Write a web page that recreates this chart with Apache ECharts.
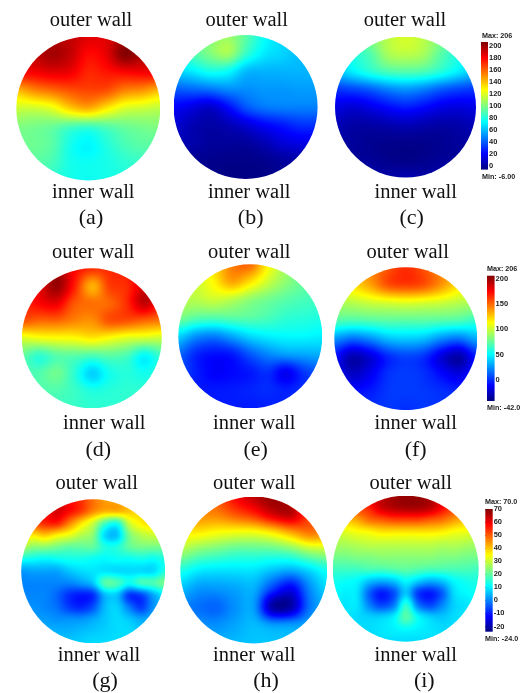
<!DOCTYPE html>
<html><head><meta charset="utf-8">
<style>html,body{margin:0;padding:0;background:#fff}#c{width:526px;height:693px}#c canvas{filter:blur(.45px)}</style>
<script src="https://cdn.jsdelivr.net/npm/echarts@6/dist/echarts.min.js"></script>
</head><body><div id="c"></div>
<script>
// Values, one row per sample line, top of each disc first.
const discA=[[192,192,195,192,186,186,197,202,202],[188,192,198,192,178,184,204,197,192],[178,180,184,182,172,175,178,180,180],[140,150,156,162,165,163,152,148,140],[115,115,120,135,142,130,118,115,112],[100,98,95,88,85,90,95,98,100],[96,96,92,78,72,80,88,92,92],[92,92,88,78,76,78,82,85,85],[85,85,82,78,76,78,80,82,82]];
const discB=[[90,90,100,105,92,75,65,60,60],[85,90,100,108,85,70,65,60,60],[65,70,78,75,60,58,58,58,58],[40,42,45,50,50,52,52,53,53],[20,15,10,22,38,45,47,47,47],[12,5,2,5,12,20,25,30,30],[5,3,0,0,0,5,12,15,15],[0,-2,-3,-4,-4,-3,0,2,2],[-2,-3,-4,-5,-5,-4,-2,0,0]];
const discC=[[90,90,100,112,118,112,100,90,90],[70,80,90,108,112,108,92,80,70],[60,70,80,88,90,88,80,70,60],[32,35,40,48,52,48,40,35,32],[15,12,16,22,26,22,16,14,16],[6,2,2,4,6,4,2,3,6],[2,0,-2,-3,-3,-3,-2,0,2],[2,0,-1,-3,-4,-3,-1,0,2],[5,5,3,2,4,2,3,5,5]];
const discD=[[175,175,195,175,165,165,170,180,180],[170,180,200,170,132,160,165,185,190],[165,175,180,155,148,150,165,190,170],[155,150,150,143,140,155,155,150,145],[105,110,112,113,118,112,105,103,100],[75,62,72,72,68,72,68,50,65],[70,70,78,62,40,55,60,55,62],[70,70,70,65,58,60,62,62,62],[68,68,66,64,62,62,62,62,62]];
const discE=[[100,100,120,145,150,115,90,75,75],[95,100,115,135,120,100,85,75,72],[95,95,100,95,85,78,72,68,66],[80,72,70,72,72,68,62,60,58],[42,25,20,30,42,48,50,50,48],[15,-2,-8,-5,10,22,28,30,32],[8,-4,-12,-10,-6,0,-14,2,10],[2,-5,-6,-5,-3,-1,-4,0,2],[0,-5,-6,-5,-5,-4,-4,0,0]];
const discF=[[130,130,140,155,165,155,140,130,130],[110,120,135,155,160,155,138,120,110],[92,95,100,103,105,103,100,95,92],[70,68,70,72,72,72,70,68,62],[25,15,22,35,38,35,22,16,30],[-8,-30,-20,-2,5,0,-20,-32,-5],[-10,-25,-15,0,3,0,-10,-18,-5],[-2,-8,-5,2,3,2,0,-2,0],[0,0,0,2,0,2,0,0,0]];
const discG=[[58,58,60,62,58,54,48,44,42,40,38,38,36],[56,56,58,62,58,53,46,42,42,40,38,38,36],[52,52,55,56,47,38,30,18,14,30,36,38,38],[40,37,40,36,33,28,24,8,6,22,28,30,30],[28,24,24,22,20,20,20,14,14,20,22,22,22],[13,12,11,12,13,13,12,11,12,12,13,12,14],[2,3,3,3,6,8,9,9,8,8,8,8,14],[0,0,0,0,0,2,6,19,18,12,17,18,22],[0,0,0,-3,-8,-10,-8,5,6,-7,-6,3,10],[1,1,0,-2,-7,-9,-5,5,7,-1,-7,1,4],[2,2,2,1,1,1,3,6,8,6,3,4,4],[4,4,4,4,4,5,6,7,8,8,6,5,5],[6,6,6,6,6,7,8,8,8,8,7,6,6]];
const discH=[[45,45,50,58,64,68,64,50,45],[42,45,46,50,54,61,64,52,45],[36,36,34,33,33,36,42,47,45],[26,22,20,18,18,18,20,25,27],[14,10,9,9,9,6,4,8,13],[6,2,2,3,4,-6,-13,0,8],[0,-2,-3,1,2,-20,-20,-2,4],[1,1,1,3,5,2,2,3,4],[4,4,4,5,6,6,5,4,4]];
const discI=[[50,50,55,60,64,67,68,68,66,60,55,50,50],[45,48,52,55,62,65,66,66,64,58,52,48,45],[38,40,43,48,50,52,52,52,50,48,44,40,38],[30,32,34,35,37,37,37,37,37,36,34,33,31],[27,27,28,29,29,29,29,29,29,28,28,27,26],[22,22,23,23,24,24,24,24,24,23,23,22,22],[17,17,17,18,18,19,20,19,18,18,18,18,17],[13,12,11,6,4,6,11,7,4,6,11,13,14],[11,10,9,-3,-10,-5,6,-7,-10,-4,8,11,12],[10,9,9,0,-6,-1,15,-1,-6,0,7,9,10],[9,9,8,7,7,10,19,11,7,6,8,9,9],[8,8,8,8,9,10,11,10,9,8,8,8,8],[8,8,8,8,8,8,8,8,8,8,8,8,8]];

const scaleRanges=[[-6,206],[-42,206],[-24,70]];
const barTicks=[[0,20,40,60,80,100,120,140,160,180,200],[0,50,100,150,200],[-20,-10,0,10,20,30,40,50,60,70]];
const maxLabels=['Max: 206','Max: 206','Max: 70.0'];
const minLabels=['Min: -6.00','Min: -42.0','Min: -24.0'];
const captions=['(a)','(b)','(c)','(d)','(e)','(f)','(g)','(h)','(i)'];
const outerLabel='outer wall', innerLabel='inner wall';
const jetColors=['#00007f','#0000ff','#0080ff','#00ffff','#80ff80','#ffff00','#ff8000','#ff0000','#7f0000'];

const discs=[discA,discB,discC,discD,discE,discF,discG,discH,discI];
const discBox=[[88.3,108.5,72],[245.6,107,72],[405.5,107,70.5],[91.8,338.3,70],[250.3,336.3,72],[405.8,338.7,71.5],[93.2,571.3,72],[253.8,570,73.5],[405.7,568.7,73]];
const outerPos=[[91,20.7],[246.7,20.7],[405,20.7],[93.3,252.3],[249.3,252.3],[407.7,252.3],[96.7,483.3],[254.3,483.3],[410.7,483.3]];
const innerPos=[[93.3,192.7],[249.3,192.7],[415.7,192.7],[104.3,423.3],[254.3,423.3],[415.7,423.3],[99,656],[254.3,656],[415.7,656]];
const capPos=[[91,218],[250.7,218],[411.7,218],[98.3,450],[255.7,450],[415.7,450],[105,681],[266,681],[424.3,681]];
const barBox=[[481,42,7,127.6],[487,275.7,7.6,125.3],[485.3,509,7.4,122.7]];
const maxPos=[[482,36],[487,269],[485,502]];
const minPos=[[482,177],[487,408],[485,639]];

function hex(c){return [1,3,5].map(i=>parseInt(c.substr(i,2),16));}
const jetRgb=jetColors.map(hex);
function jet(t){
  t=Math.max(0,Math.min(1,t))*(jetRgb.length-1);
  const i=Math.min(jetRgb.length-2,Math.floor(t)),f=t-i,a=jetRgb[i],b=jetRgb[i+1];
  return 'rgb('+a.map((v,k)=>Math.round(v+(b[k]-v)*f)).join(',')+')';
}
const cr=(a,b,c,d,t)=>b+0.5*t*(c-a+t*(2*a-5*b+4*c-d+t*(3*(b-c)+d-a)));
function sampler(rows){
  const n=rows.length,cl=i=>Math.max(0,Math.min(n-1,i));
  return (x,y)=>{
    const ix=Math.floor(x),iy=Math.floor(y),fx=x-ix,fy=y-iy,col=[];
    for(let j=-1;j<=2;j++){const r=rows[cl(iy+j)];col.push(cr(r[cl(ix-1)],r[cl(ix)],r[cl(ix+1)],r[cl(ix+2)],fx));}
    return cr(col[0],col[1],col[2],col[3],fy);
  };
}
const series=[],grids=[],xAxes=[],yAxes=[],graphics=[];
discs.forEach((rows,d)=>{
  const [cx,cy,r]=discBox[d],n=rows.length,range=scaleRanges[Math.floor(d/3)],val=sampler(rows),span=range[1]-range[0];
  grids.push({left:cx-r,top:cy-r,width:2*r,height:2*r});
  xAxes.push({type:'value',gridIndex:d,min:0,max:n-1,show:false});
  yAxes.push({type:'value',gridIndex:d,min:0,max:n-1,inverse:true,show:false});
  const data=[];
  for(let j=0;j<n-1;j++)for(let i=0;i<n-1;i++)data.push([i,j,rows[j][i]]);
  series.push({type:'custom',xAxisIndex:d,yAxisIndex:d,coordinateSystem:'cartesian2d',data,silent:true,clip:false,
    encode:{x:0,y:1},animation:false,
    renderItem(p,api){
      const i=api.value(0),j=api.value(1);
      const p0=api.coord([i,j]),p1=api.coord([i+1,j+1]);
      const X0=Math.round(p0[0]),X1=Math.round(p1[0]),Y0=Math.round(p0[1]),Y1=Math.round(p1[1]),kids=[];
      for(let Y=Y0;Y<Y1;Y++){
        const fy=j+(Y+.5-Y0)/(Y1-Y0),stops=[];
        for(let k=0;k<=6;k++){stops.push({offset:k/6,color:jet((val(i+k/6*.999,fy)-range[0])/span)});}
        kids.push({type:'rect',shape:{x:X0,y:Y,width:X1-X0,height:1},
          style:{fill:new echarts.graphic.LinearGradient(0,0,1,0,stops)}});
      }
      return {type:'group',children:kids,clipPath:{type:'circle',shape:{cx,cy,r}}};
    }});
  const txt=(t,pos,size)=>graphics.push({type:'text',x:pos[0],y:pos[1],silent:true,
    style:{text:t,x:0,y:0,align:'center',verticalAlign:'middle',fontFamily:'Liberation Serif',fontSize:size,fill:'#111'}});
  txt(outerLabel,outerPos[d],20.5);txt(innerLabel,innerPos[d],20.5);txt(captions[d],capPos[d],22);
});
barBox.forEach((b,k)=>{
  const g=discs.length+k,[mn,mx]=scaleRanges[k];
  grids.push({left:b[0],top:b[1],width:b[2],height:b[3]});
  xAxes.push({type:'value',gridIndex:g,min:0,max:1,show:false});
  yAxes.push({type:'value',gridIndex:g,position:'right',min:mn,max:mx,splitLine:{show:false},axisLine:{show:false},
    axisTick:{show:true,length:2,customValues:barTicks[k],lineStyle:{color:'#222',width:1}},
    axisLabel:{show:true,margin:1,customValues:barTicks[k],fontFamily:'Liberation Sans',fontWeight:'bold',fontSize:7.5,color:'#222'}});
  series.push({type:'custom',xAxisIndex:g,yAxisIndex:g,coordinateSystem:'cartesian2d',data:[[0,mn,1,mx]],silent:true,clip:false,animation:false,
    encode:{x:[0,2],y:[1,3]},
    renderItem(p,api){
      const a=api.coord([api.value(0),api.value(3)]),c=api.coord([api.value(2),api.value(1)]);
      return {type:'rect',shape:{x:a[0],y:a[1],width:c[0]-a[0],height:c[1]-a[1]},
        style:{fill:new echarts.graphic.LinearGradient(0,1,0,0,jetColors.map((color,i)=>({offset:i/(jetColors.length-1),color})))}};
    }});
  [[maxLabels[k],maxPos[k]],[minLabels[k],minPos[k]]].forEach(([t,pos])=>graphics.push({type:'text',x:pos[0],y:pos[1],silent:true,
    style:{text:t,x:0,y:0,align:'left',verticalAlign:'middle',fontFamily:'Liberation Sans',fontWeight:'bold',fontSize:7.2,fill:'#222'}}));
});
const chart=echarts.init(document.getElementById('c'),null,{renderer:'canvas'});
chart.setOption({animation:false,backgroundColor:'#fff',tooltip:{show:false},grid:grids,xAxis:xAxes,yAxis:yAxes,series,graphic:{elements:graphics}});
</script></body></html>
